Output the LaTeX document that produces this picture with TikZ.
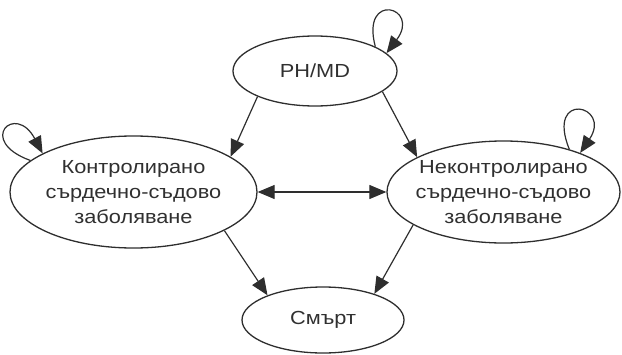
\documentclass[tikz,border=0pt]{standalone}
\usepackage{fontspec}
\setmainfont{Liberation Sans}[FakeStretch=1.15]
\usetikzlibrary{arrows.meta,shapes.geometric}
\definecolor{inkgrey}{HTML}{2E2E2E}
\definecolor{textgrey}{HTML}{303030}

\begin{document}
\begin{tikzpicture}[x=1bp, y=1bp,
  state/.style={ellipse, draw=inkgrey, line width=1.3bp, inner sep=-20bp, align=center,
    text=textgrey, font=\fontsize{19}{25}\selectfont},
  trans/.style={draw=inkgrey, line width=1.2bp, -{Triangle[length=17bp,width=14bp]}}]
\useasboundingbox (0,0) rectangle (622,354);
\node[state, minimum width=164bp, minimum height=70bp] (phmd) at (315,283) {PH/MD};
\node[state, minimum width=247bp, minimum height=112bp] (ctrl) at (133.5,162) {Контролирано\\сърдечно-съдово\\заболяване};
\node[state, minimum width=233bp, minimum height=102bp] (unctrl) at (503.5,162) {Неконтролирано\\сърдечно-съдово\\заболяване};
\node[state, minimum width=162bp, minimum height=66bp] (death) at (323,34) {Смърт};
\draw[trans] (phmd.204) -- (ctrl.20);
\draw[trans] (phmd.343) -- (unctrl.158);
\draw[trans] (ctrl.337) -- (death.156);
\draw[trans] (unctrl.200) -- (death.27);
\draw[trans, {Triangle[length=17bp,width=14bp]}-{Triangle[length=17bp,width=14bp]}] (ctrl.east) -- (unctrl.west);
\draw[trans] (phmd.22) .. controls +(105:58) and +(53:58) .. (phmd.14);
\draw[trans] (ctrl.163) .. controls +(160:58) and +(118:58) .. (ctrl.157);
\draw[trans] (unctrl.33) .. controls +(112:64) and +(56:58) .. (unctrl.27);
\end{tikzpicture}
\end{document}
